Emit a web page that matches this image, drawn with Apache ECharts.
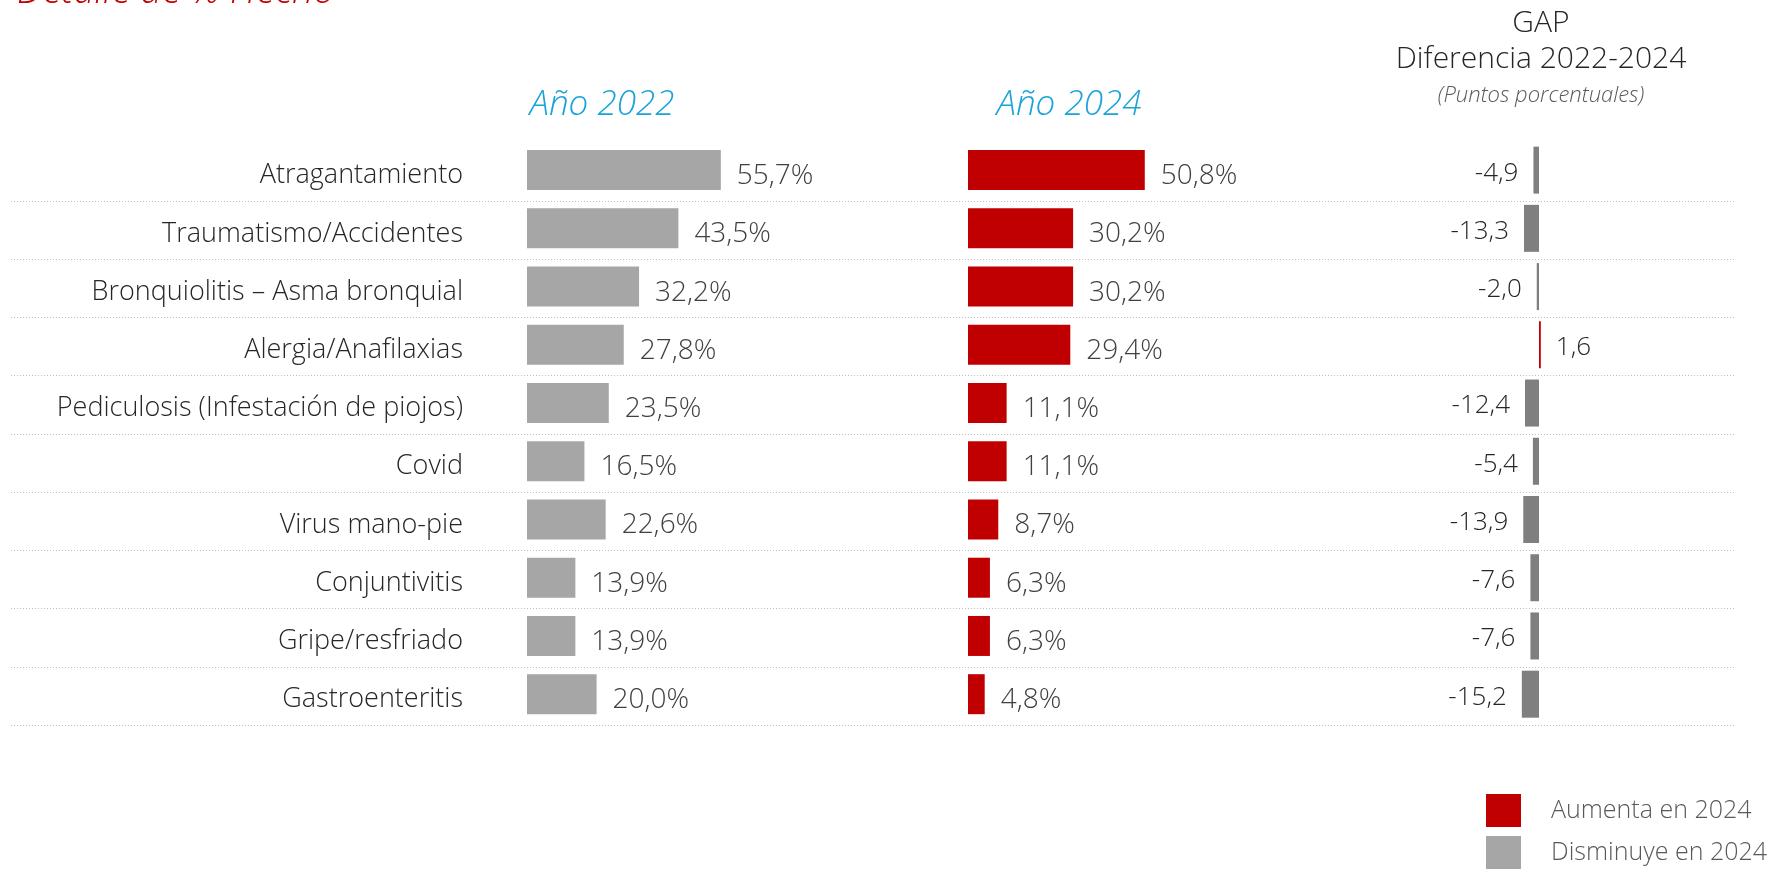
<!DOCTYPE html>
<html>
<head>
<meta charset="utf-8">
<script src="https://cdn.jsdelivr.net/npm/echarts@6/dist/echarts.min.js"></script>
<style>
  html, body { margin: 0; padding: 0; background: #fff; }
  #chart { width: 1771px; height: 869px; }
</style>
</head>
<body>
<div id="chart"></div>
<script>
// datos
var categorias = [
  'Atragantamiento',
  'Traumatismo/Accidentes',
  'Bronquiolitis – Asma bronquial',
  'Alergia/Anafilaxias',
  'Pediculosis (Infestación de piojos)',
  'Covid',
  'Virus mano-pie',
  'Conjuntivitis',
  'Gripe/resfriado',
  'Gastroenteritis'
]
var valores2022 = [55.7, 43.5, 32.2, 27.8, 23.5, 16.5, 22.6, 13.9, 13.9, 20.0]
var valores2024 = [50.8, 30.2, 30.2, 29.4, 11.1, 11.1, 8.7, 6.3, 6.3, 4.8]
var gap = [-4.9, -13.3, -2.0, 1.6, -12.4, -5.4, -13.9, -7.6, -7.6, -15.2]
var leyenda = ['Aumenta en 2024', 'Disminuye en 2024']

var ROJO = '#c00000'
var GRIS = '#a6a6a6'
var GRIS_OSC = '#7f7f7f'
var FUENTE = '"Open Sans", sans-serif'

function coma (v, dec) {
  return v.toFixed(dec).replace('.', ',')
}

var chart = echarts.init(document.getElementById('chart'))

// ejes de categoria (uno por cada grid)
function ejeCat (idx, conLabels) {
  return {
    type: 'category',
    gridIndex: idx,
    data: categorias,
    inverse: true,
    axisLine: { show: false },
    axisTick: { show: false },
    splitLine: { show: false },
    axisLabel: {
      show: conLabels,
      margin: 64,
      fontFamily: FUENTE,
      fontWeight: 300,
      fontSize: 27,
      color: '#262626',
      verticalAlign: 'top',
      lineHeight: 11
    }
  }
}

var etiquetaValor = {
  show: true,
  position: 'right',
  distance: 16,
  offset: [0, 6],
  fontFamily: FUENTE,
  fontWeight: 300,
  fontSize: 28,
  color: '#404040',
  formatter: function (p) { return coma(p.value, 1) + '%' }
}

var gapData = gap.map(function (v) {
  return {
    value: v,
    itemStyle: { color: v > 0 ? ROJO : GRIS_OSC },
    label: { position: v < 0 ? 'left' : 'right' }
  }
})

var option = {
  animation: false,
  textStyle: { fontFamily: FUENTE },
  grid: [
    { left: 527, top: 141, width: 208.8, height: 582.3 },
    { left: 968, top: 141, width: 208.8, height: 582.3 },
    { left: 1516.4, top: 141, width: 45.2, height: 582.3 },
    // solo para las lineas punteadas entre filas
    { left: 11, top: 201, width: 1723, height: 524 }
  ],
  xAxis: [
    { type: 'value', gridIndex: 0, min: 0, max: 60, show: false },
    { type: 'value', gridIndex: 1, min: 0, max: 60, show: false },
    { type: 'value', gridIndex: 2, min: -20, max: 20, show: false },
    { type: 'value', gridIndex: 3, min: 0, max: 1, show: false }
  ],
  yAxis: [
    ejeCat(0, true),
    ejeCat(1, false),
    ejeCat(2, false),
    {
      type: 'value',
      gridIndex: 3,
      min: 0,
      max: 9,
      interval: 1,
      axisLine: { show: false },
      axisTick: { show: false },
      axisLabel: { show: false },
      splitLine: { show: true, lineStyle: { color: '#bfbfbf', type: [1, 2], width: 1 } }
    }
  ],
  legend: {
    orient: 'vertical',
    left: 1486,
    top: 794,
    padding: 0,
    itemWidth: 35,
    itemHeight: 33,
    itemGap: 9,
    icon: 'rect',
    selectedMode: false,
    textStyle: {
      fontFamily: FUENTE,
      fontWeight: 300,
      fontSize: 25,
      color: '#595959',
      padding: [0, 0, 0, 25]
    },
    data: leyenda
  },
  graphic: [
    {
      type: 'text', x: 17, y: -8,
      style: { text: 'Detalle de % Hecho', fill: ROJO, verticalAlign: 'middle', font: 'italic 300 38px "Open Sans", sans-serif' }
    },
    {
      type: 'text', x: 602, y: 105,
      style: { text: 'Año 2022', fill: '#1aa3d9', align: 'center', verticalAlign: 'middle', font: 'italic 300 35px "Open Sans", sans-serif' }
    },
    {
      type: 'text', x: 1069, y: 105,
      style: { text: 'Año 2024', fill: '#1aa3d9', align: 'center', verticalAlign: 'middle', font: 'italic 300 35px "Open Sans", sans-serif' }
    },
    {
      type: 'text', x: 1541, y: 23,
      style: { text: 'GAP', fill: '#262626', align: 'center', verticalAlign: 'middle', font: '300 30px "Open Sans", sans-serif' }
    },
    {
      type: 'text', x: 1541, y: 59,
      style: { text: 'Diferencia 2022-2024', fill: '#262626', align: 'center', verticalAlign: 'middle', font: '300 30px "Open Sans", sans-serif' }
    },
    {
      type: 'text', x: 1541, y: 96,
      style: { text: '(Puntos porcentuales)', fill: '#595959', align: 'center', verticalAlign: 'middle', font: 'italic 300 22px "Open Sans", sans-serif' }
    }
  ],
  series: [
    {
      name: 'Año 2022',
      type: 'bar',
      xAxisIndex: 0,
      yAxisIndex: 0,
      barWidth: 40,
      itemStyle: { color: GRIS },
      label: etiquetaValor,
      data: valores2022
    },
    {
      name: 'Año 2024',
      type: 'bar',
      xAxisIndex: 1,
      yAxisIndex: 1,
      barWidth: 40,
      itemStyle: { color: ROJO },
      label: etiquetaValor,
      data: valores2024
    },
    {
      name: 'GAP',
      type: 'bar',
      xAxisIndex: 2,
      yAxisIndex: 2,
      barWidth: 47,
      label: {
        show: true,
        distance: 15,
        offset: [0, 3],
        fontFamily: FUENTE,
        fontWeight: 300,
        fontSize: 26,
        color: '#262626',
        formatter: function (p) { return coma(p.value, 1) }
      },
      data: gapData
    },
    // series vacias solo para la leyenda
    { name: leyenda[0], type: 'line', xAxisIndex: 3, yAxisIndex: 3, color: ROJO, data: [] },
    { name: leyenda[1], type: 'line', xAxisIndex: 3, yAxisIndex: 3, color: GRIS, data: [] }
  ]
}

chart.setOption(option)
</script>
</body>
</html>
